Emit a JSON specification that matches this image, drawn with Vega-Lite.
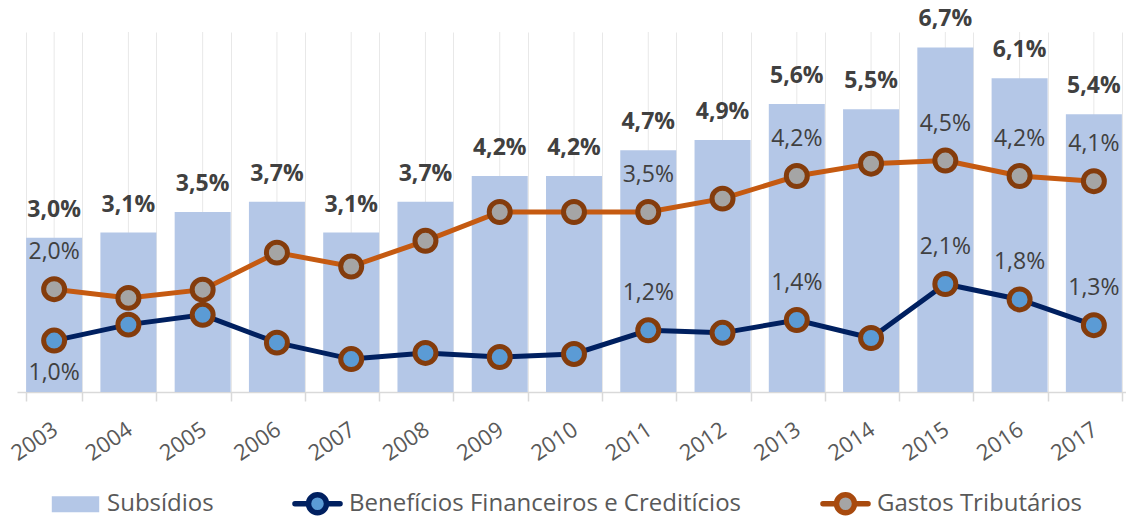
{
  "$schema": "https://vega.github.io/schema/vega-lite/v6.json",
  "width": 1109,
  "height": 360,
  "autosize": {"type": "none"},
  "padding": {"left": 17, "top": 32, "right": 0, "bottom": 126},
  "config": {
    "view": {"stroke": null},
    "font": "Open Sans",
    "locale": {"number": {"decimal": ",", "thousands": ".", "grouping": [3], "currency": ["R$", ""]}},
    "legend": {"padding": 0}
  },
  "data": {
    "values": [
      {"year": "2003", "series": "Subsídios", "value": 0.030},
      {"year": "2004", "series": "Subsídios", "value": 0.031},
      {"year": "2005", "series": "Subsídios", "value": 0.035},
      {"year": "2006", "series": "Subsídios", "value": 0.037},
      {"year": "2007", "series": "Subsídios", "value": 0.031},
      {"year": "2008", "series": "Subsídios", "value": 0.037},
      {"year": "2009", "series": "Subsídios", "value": 0.042},
      {"year": "2010", "series": "Subsídios", "value": 0.042},
      {"year": "2011", "series": "Subsídios", "value": 0.047},
      {"year": "2012", "series": "Subsídios", "value": 0.049},
      {"year": "2013", "series": "Subsídios", "value": 0.056},
      {"year": "2014", "series": "Subsídios", "value": 0.055},
      {"year": "2015", "series": "Subsídios", "value": 0.067},
      {"year": "2016", "series": "Subsídios", "value": 0.061},
      {"year": "2017", "series": "Subsídios", "value": 0.054},
      {"year": "2003", "series": "Benefícios Financeiros e Creditícios", "value": 0.010},
      {"year": "2004", "series": "Benefícios Financeiros e Creditícios", "value": 0.0131},
      {"year": "2005", "series": "Benefícios Financeiros e Creditícios", "value": 0.0150},
      {"year": "2006", "series": "Benefícios Financeiros e Creditícios", "value": 0.0096},
      {"year": "2007", "series": "Benefícios Financeiros e Creditícios", "value": 0.0064},
      {"year": "2008", "series": "Benefícios Financeiros e Creditícios", "value": 0.0076},
      {"year": "2009", "series": "Benefícios Financeiros e Creditícios", "value": 0.0068},
      {"year": "2010", "series": "Benefícios Financeiros e Creditícios", "value": 0.0074},
      {"year": "2011", "series": "Benefícios Financeiros e Creditícios", "value": 0.012},
      {"year": "2012", "series": "Benefícios Financeiros e Creditícios", "value": 0.0115},
      {"year": "2013", "series": "Benefícios Financeiros e Creditícios", "value": 0.014},
      {"year": "2014", "series": "Benefícios Financeiros e Creditícios", "value": 0.0105},
      {"year": "2015", "series": "Benefícios Financeiros e Creditícios", "value": 0.021},
      {"year": "2016", "series": "Benefícios Financeiros e Creditícios", "value": 0.018},
      {"year": "2017", "series": "Benefícios Financeiros e Creditícios", "value": 0.013},
      {"year": "2003", "series": "Gastos Tributários", "value": 0.020},
      {"year": "2004", "series": "Gastos Tributários", "value": 0.0183},
      {"year": "2005", "series": "Gastos Tributários", "value": 0.0199},
      {"year": "2006", "series": "Gastos Tributários", "value": 0.0271},
      {"year": "2007", "series": "Gastos Tributários", "value": 0.0244},
      {"year": "2008", "series": "Gastos Tributários", "value": 0.0294},
      {"year": "2009", "series": "Gastos Tributários", "value": 0.035},
      {"year": "2010", "series": "Gastos Tributários", "value": 0.035},
      {"year": "2011", "series": "Gastos Tributários", "value": 0.035},
      {"year": "2012", "series": "Gastos Tributários", "value": 0.0376},
      {"year": "2013", "series": "Gastos Tributários", "value": 0.042},
      {"year": "2014", "series": "Gastos Tributários", "value": 0.0444},
      {"year": "2015", "series": "Gastos Tributários", "value": 0.045},
      {"year": "2016", "series": "Gastos Tributários", "value": 0.042},
      {"year": "2017", "series": "Gastos Tributários", "value": 0.041}
    ]
  },
  "encoding": {
    "x": {
      "field": "year",
      "type": "nominal",
      "scale": {"type": "band", "range": [0, 1114], "paddingInner": 0.246, "paddingOuter": 0.123},
      "axis": {
        "title": null,
        "grid": true,
        "gridColor": "#e8e8e8",
        "gridWidth": 1,
        "tickBand": "extent",
        "domainColor": "#d9d9d9",
        "domainWidth": 1.5,
        "tickColor": "#d9d9d9",
        "tickWidth": 1.5,
        "tickSize": 9,
        "labelAngle": -34,
        "labelAlign": "right",
        "labelBaseline": "middle",
        "labelFont": "Open Sans",
        "labelFontSize": 22,
        "labelColor": "#595959",
        "labelPadding": 26,
        "labelOffset": 1
      }
    },
    "y": {
      "field": "value",
      "type": "quantitative",
      "scale": {"domain": [0, 0.07], "nice": false, "zero": true},
      "axis": null
    }
  },
  "layer": [
    {
      "transform": [{"filter": "datum.series === 'Subsídios'"}],
      "mark": {"type": "rule", "color": "#e8e8e8", "strokeWidth": 1},
      "encoding": {
        "x": {"field": "year", "type": "nominal", "bandPosition": 0.5},
        "y": null
      }
    },
    {
      "transform": [{"filter": "datum.series === 'Subsídios'"}],
      "mark": {"type": "bar"},
      "encoding": {
        "color": {
          "field": "series",
          "type": "nominal",
          "scale": {
            "domain": ["Subsídios", "Benefícios Financeiros e Creditícios", "Gastos Tributários"],
            "range": ["#b4c7e7", "#5b9bd5", "#a5a5a5"]
          },
          "legend": {
            "orient": "none",
            "legendX": 32,
            "legendY": 445,
            "direction": "horizontal",
            "columns": 3,
            "title": null,
            "labelFont": "Open Sans",
            "labelFontSize": 24,
            "labelColor": "#595959",
            "labelLimit": 600,
            "labelOffset": 5,
            "columnPadding": 69,
            "symbolSize": 2250,
            "symbolStrokeWidth": 5,
            "zindex": 0,
            "encode": {
              "symbols": {
                "update": {
                  "shape": {"signal": "datum.value === 'Subsídios' ? 'M-1,-0.34H1V0.34H-1Z' : 'M-0.95,0H-0.38M0.38,0H0.95M0.38,0A0.38,0.38 0 1,1 -0.38,0A0.38,0.38 0 1,1 0.38,0Z'"},
                  "stroke": {"signal": "datum.value === 'Subsídios' ? 'transparent' : datum.value === 'Gastos Tributários' ? '#a84a0e' : '#002060'"},
                  "strokeWidth": {"value": 5.5},
                  "strokeCap": {"value": "round"},
                  "opacity": {"value": 1},
                  "fillOpacity": {"value": 1},
                  "strokeOpacity": {"value": 1}
                }
              }
            }
          }
        }
      }
    },
    {
      "transform": [{"filter": "datum.series === 'Subsídios'"}],
      "mark": {"type": "text", "dy": -28, "fontSize": 23, "fontWeight": "bold", "color": "#404040", "font": "Open Sans", "baseline": "middle"},
      "encoding": {
        "text": {"field": "value", "type": "quantitative", "format": ".1%"}
      }
    },
    {
      "transform": [{"filter": "datum.series !== 'Subsídios'"}],
      "mark": {"type": "line", "strokeWidth": 5},
      "encoding": {
        "stroke": {
          "field": "series",
          "type": "nominal",
          "scale": {
            "domain": ["Benefícios Financeiros e Creditícios", "Gastos Tributários"],
            "range": ["#002060", "#c55a11"]
          },
          "legend": null
        }
      }
    },
    {
      "transform": [{"filter": "datum.series !== 'Subsídios'"}],
      "mark": {"type": "point", "filled": true, "shape": "circle", "size": 440, "stroke": "#843c0c", "strokeWidth": 5, "opacity": 1},
      "encoding": {
        "color": {"field": "series", "type": "nominal"}
      }
    },
    {
      "transform": [
        {"filter": "datum.series !== 'Subsídios'"},
        {"filter": {"field": "year", "oneOf": ["2003", "2011", "2013", "2015", "2016", "2017"]}},
        {"filter": "!(datum.year === '2003' && datum.series === 'Benefícios Financeiros e Creditícios')"}
      ],
      "mark": {"type": "text", "dy": -37, "fontSize": 23, "color": "#404040", "font": "Open Sans", "baseline": "middle"},
      "encoding": {
        "text": {"field": "value", "type": "quantitative", "format": ".1%"}
      }
    },
    {
      "transform": [
        {"filter": "datum.year === '2003' && datum.series === 'Benefícios Financeiros e Creditícios'"}
      ],
      "mark": {"type": "text", "dy": 32, "fontSize": 23, "color": "#404040", "font": "Open Sans", "baseline": "middle"},
      "encoding": {
        "text": {"field": "value", "type": "quantitative", "format": ".1%"}
      }
    }
  ]
}
